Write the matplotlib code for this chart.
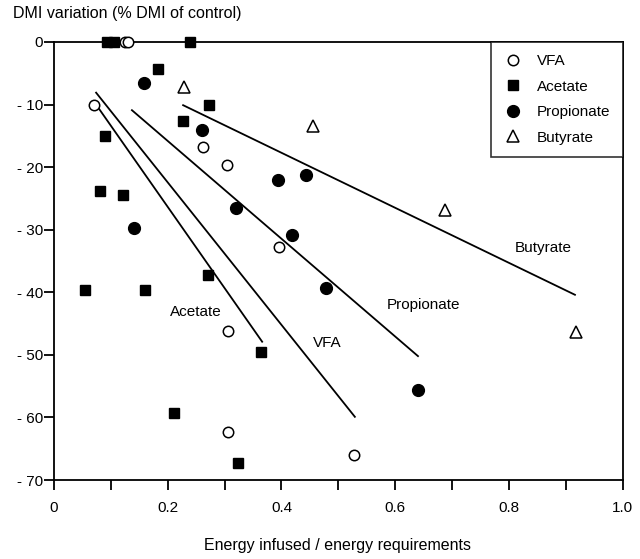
import numpy as np
import matplotlib
matplotlib.use("Agg")
import matplotlib.pyplot as plt

plt.rcParams['font.family'] = ['Liberation Sans', 'DejaVu Sans']
plt.rcParams['font.size'] = 11

# data
vfa_x = [0.125, 0.130, 0.070, 0.262, 0.305, 0.396, 0.306, 0.306, 0.527]
vfa_y = [0.0, 0.0, -10.0, -16.8, -19.7, -32.7, -46.2, -62.3, -66.0]

acetate_x = [0.094, 0.106, 0.239, 0.183, 0.273, 0.226, 0.090, 0.081, 0.121,
             0.271, 0.054, 0.160, 0.364, 0.211, 0.323]
acetate_y = [0.0, 0.0, 0.0, -4.3, -10.1, -12.6, -15.0, -23.8, -24.5,
             -37.2, -39.6, -39.6, -49.6, -59.3, -67.3]

propionate_x = [0.158, 0.261, 0.393, 0.443, 0.320, 0.141, 0.418, 0.478, 0.640]
propionate_y = [-6.6, -14.0, -22.0, -21.2, -26.6, -29.7, -30.8, -39.3, -55.6]

butyrate_x = [0.229, 0.455, 0.687, 0.917]
butyrate_y = [-7.2, -13.5, -26.8, -46.3]

# regression line end points
line_names = ['Acetate', 'VFA', 'Propionate', 'Butyrate']
line_x = [(0.077, 0.366), (0.074, 0.529), (0.137, 0.640), (0.227, 0.916)]
line_y = [(-10.4, -47.9), (-8.1, -59.9), (-10.9, -50.2), (-10.1, -40.4)]
label_x = [0.204, 0.455, 0.585, 0.810]
label_y = [-43.1, -48.1, -42.0, -32.9]

x_ticks = np.round(np.arange(0, 1.01, 0.1), 1)
y_ticks = [0, -10, -20, -30, -40, -50, -60, -70]

fig = plt.figure(figsize=(6.4, 5.59), dpi=100)
ax = fig.add_axes([0.0844, 0.1413, 0.8886, 0.7836])

for lx, ly in zip(line_x, line_y):
    ax.plot(lx, ly, color='black', lw=1.3)
for name, tx, ty in zip(line_names, label_x, label_y):
    ax.text(tx, ty, name, ha='left', va='center', fontsize=11)

ms = 8
ax.plot(vfa_x, vfa_y, 'o', ms=ms - 0.5, mfc='white', mec='black', mew=1.1,
        clip_on=False, zorder=4, label='VFA')
ax.plot(acetate_x, acetate_y, 's', ms=ms - 0.5, color='black',
        clip_on=False, zorder=3, label='Acetate')
ax.plot(propionate_x, propionate_y, 'o', ms=ms + 0.5, color='black',
        clip_on=False, zorder=3, label='Propionate')
ax.plot(butyrate_x, butyrate_y, '^', ms=ms, mfc='white', mec='black', mew=1.1,
        clip_on=False, zorder=3, label='Butyrate')

ax.set_xlim(0, 1)
ax.set_ylim(-70, 0)
ax.set_xticks(x_ticks)
ax.set_xticklabels(['0' if v == 0 else (f'{v:.1f}' if round(v * 10) % 2 == 0 else '')
                    for v in x_ticks])
ax.set_yticks(y_ticks)
ax.set_yticklabels(['0' if v == 0 else f'- {-v}' for v in y_ticks])
ax.tick_params(axis='both', labelsize=11)
ax.tick_params(axis='x', direction='out', length=7, width=1.3, pad=8)
ax.tick_params(axis='y', direction='out', length=7, width=1.3, pad=1)
for s in ax.spines.values():
    s.set_linewidth(1.3)

leg = ax.legend(loc='upper right', frameon=True, fancybox=False, edgecolor='black',
                fontsize=11, handletextpad=0.9, labelspacing=0.75,
                borderpad=0.8, borderaxespad=0.0, handlelength=1.3)
leg.get_frame().set_linewidth(1.2)

fig.text(0.02, 0.975, 'DMI variation (% DMI of control)', ha='left', va='center',
         fontsize=11.5)
fig.text(0.528, 0.025, 'Energy infused / energy requirements', ha='center',
         va='center', fontsize=11.5)

fig.savefig('out.png', dpi=100)
